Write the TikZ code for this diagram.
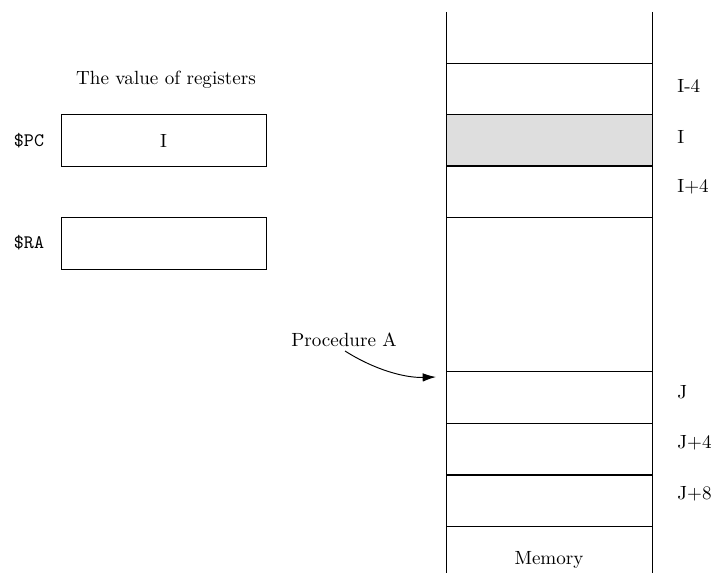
\documentclass[tikz,border=0pt]{standalone}
\usetikzlibrary{arrows.meta}
\begin{document}
\begin{tikzpicture}[x=0.5236pt,y=-0.5236pt,
  cell/.style={draw,line width=0.5pt,minimum width=206*0.5236pt,minimum height=51.5*0.5236pt,inner sep=0pt,outer sep=0pt},
  regbox/.style={draw,line width=0.5pt,minimum width=205*0.5236pt,minimum height=51.5*0.5236pt,inner sep=0pt,outer sep=0pt},
  addr/.style={anchor=west,inner sep=0pt},
  lbl/.style={inner sep=0pt}]
\useasboundingbox (0,0) rectangle (712,573);
% registers
\node[lbl] (title) at (166,80) {The value of registers};
\node[regbox] (pc) at (163.5,140.5) {I};
\node[regbox] (ra) at (163.5,243.5) {};
\node[lbl] (pclbl) at (29,141) {\texttt{\$PC}};
\node[lbl] (ralbl) at (29,243) {\texttt{\$RA}};
% memory
\coordinate (mtl) at (446,12);
\coordinate (mbl) at (446,573);
\coordinate (mtr) at (652,12);
\coordinate (mbr) at (652,573);
\draw[line width=0.5pt] (mtl) -- (mbl);
\draw[line width=0.5pt] (mtr) -- (mbr);
\node[cell] (c1) at (549,89) {};
\node[cell,fill=black!13] (c2) at (549,140.5) {};
\node[cell] (c3) at (549,191.5) {};
\node[cell] (c4) at (549,397.5) {};
\node[cell] (c5) at (549,449) {};
\node[cell] (c6) at (549,501) {};
\node[lbl] (mem) at (549,560) {Memory};
\node[addr] (a1) at (677,86) {I-4};
\node[addr] (a2) at (677,137) {I};
\node[addr] (a3) at (677,187) {I+4};
\node[addr] (a4) at (677,392) {J};
\node[addr] (a5) at (677,443) {J+4};
\node[addr] (a6) at (677,494) {J+8};
% procedure A
\node[lbl] (proc) at (344,340) {Procedure A};
\coordinate (pend) at (436,377);
\draw[-{Latex[length=7pt,width=4.5pt]},line width=0.5pt] (345,351) .. controls (375,370) and (405,378) .. (pend);
\end{tikzpicture}
\end{document}
